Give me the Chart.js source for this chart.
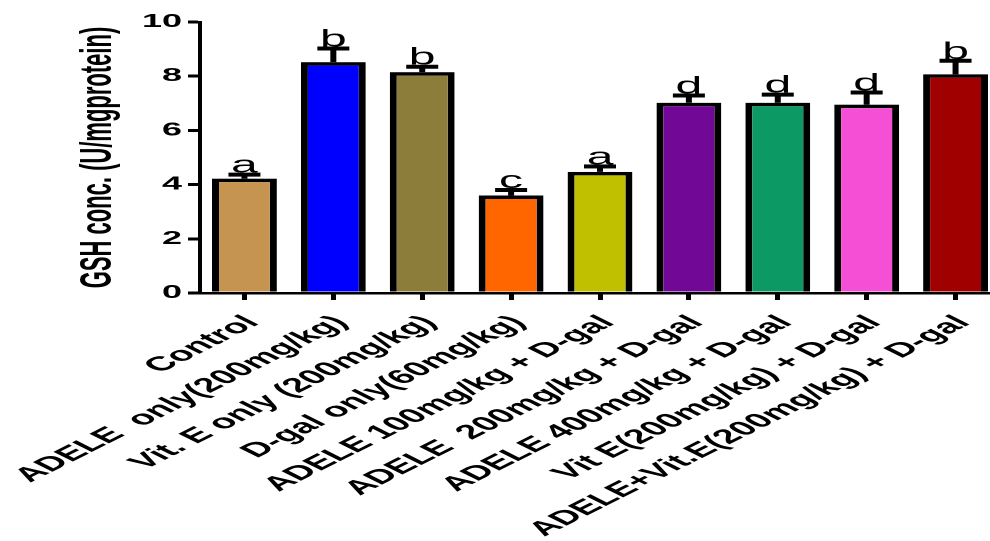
<!DOCTYPE html>
<html>
<head>
<meta charset="utf-8">
<script src="https://cdn.jsdelivr.net/npm/chart.js@4.4.1/dist/chart.umd.min.js"></script>
<style>
  html, body { margin: 0; padding: 0; background: #fff; overflow: hidden; }
  /* the reference is a horizontally stretched export, so the chart is drawn
     at half width and stretched back out */
  #wrap { width: 500px; height: 541px; transform: scaleX(2); transform-origin: 0 0; }
</style>
</head>
<body>
<div id="wrap"><canvas id="gshChart"></canvas></div>
<script>
const groups = ['Control', 'ADELE  only(200mg/kg)', 'Vit. E only (200mg/kg)', 'D-gal only(60mg/kg)',
  'ADELE 100mg/kg + D-gal', 'ADELE  200mg/kg + D-gal', 'ADELE 400mg/kg + D-gal',
  'Vit E(200mg/kg) + D-gal', 'ADELE+Vit.E(200mg/kg) + D-gal'];
const gshMean = [4.22, 8.52, 8.15, 3.6, 4.47, 7.02, 7.02, 6.95, 8.07];
const gshErr = [0.15, 0.5, 0.2, 0.2, 0.2, 0.27, 0.3, 0.45, 0.5];
const sigLetters = ['a', 'b', 'b', 'c', 'a', 'd', 'd', 'd', 'b'];
const yTicks = [0, 2, 4, 6, 8, 10];

const barColors = ['#c49450', '#0000ff', '#8c7d3a', '#ff6600', '#c0c000',
  '#720896', '#0c9964', '#f550d5', '#a00000'];

// error bars (upper half only) and the letters above them
const errorBars = {
  id: 'errorBars',
  afterDatasetsDraw(chart) {
    const ctx = chart.ctx;
    const y = chart.scales.y;
    const meta = chart.getDatasetMeta(0);
    ctx.save();
    ctx.strokeStyle = '#000';
    ctx.fillStyle = '#000';
    meta.data.forEach((bar, i) => {
      const top = y.getPixelForValue(gshMean[i] + gshErr[i]);
      ctx.lineWidth = 3;
      ctx.beginPath();
      ctx.moveTo(bar.x, bar.y);
      ctx.lineTo(bar.x, top);
      ctx.stroke();
      ctx.lineWidth = 4;
      ctx.beginPath();
      ctx.moveTo(bar.x - 8, top);
      ctx.lineTo(bar.x + 8, top);
      ctx.stroke();
      ctx.font = '24px "Liberation Sans", Arial, sans-serif';
      ctx.textAlign = 'center';
      ctx.textBaseline = 'alphabetic';
      ctx.fillText(sigLetters[i], bar.x, top - 2);
    });
    ctx.restore();
  }
};

new Chart(document.getElementById('gshChart'), {
  type: 'bar',
  data: {
    labels: groups,
    datasets: [{
      data: gshMean,
      backgroundColor: barColors,
      borderColor: '#000',
      borderWidth: 3.5,
      categoryPercentage: 1,
      barPercentage: 0.73
    }]
  },
  options: {
    responsive: true,
    maintainAspectRatio: false,
    devicePixelRatio: 2,
    animation: false,
    layout: { padding: { top: 22, right: 0, left: 0, bottom: 0 } },
    plugins: { legend: { display: false }, tooltip: { enabled: false } },
    scales: {
      x: {
        grid: { display: true, offset: false, drawOnChartArea: false, drawTicks: true,
          tickLength: 7, color: '#000', lineWidth: 2.5 },
        border: { display: true, color: '#000', width: 2.5 },
        ticks: {
          color: '#000',
          autoSkip: false,
          maxRotation: 45,
          minRotation: 45,
          padding: 11,
          labelOffset: 4,
          font: { family: '"Liberation Sans", Arial, sans-serif', size: 20, weight: 'bold' }
        },
        afterFit(scale) { scale.height = 248; scale.paddingLeft = 0; scale.paddingRight = 0; }
      },
      y: {
        min: 0,
        max: 10,
        afterBuildTicks(scale) { scale.ticks = yTicks.map(v => ({ value: v })); },
        grid: { display: true, drawOnChartArea: false, drawTicks: true, tickLength: 6,
          color: '#000', lineWidth: 3 },
        border: { display: true, color: '#000', width: 2 },
        ticks: {
          color: '#000',
          padding: 3,
          font: { family: '"Liberation Sans", Arial, sans-serif', size: 18, weight: 'bold' }
        },
        title: {
          display: true,
          text: 'GSH conc. (U/mgprotein)',
          color: '#000',
          padding: { top: 36, bottom: 0 },
          font: { family: '"Liberation Sans", Arial, sans-serif', size: 22, weight: 'bold' }
        },
        afterFit(scale) { scale.width = 100; }
      }
    }
  },
  plugins: [errorBars]
});
</script>
</body>
</html>
